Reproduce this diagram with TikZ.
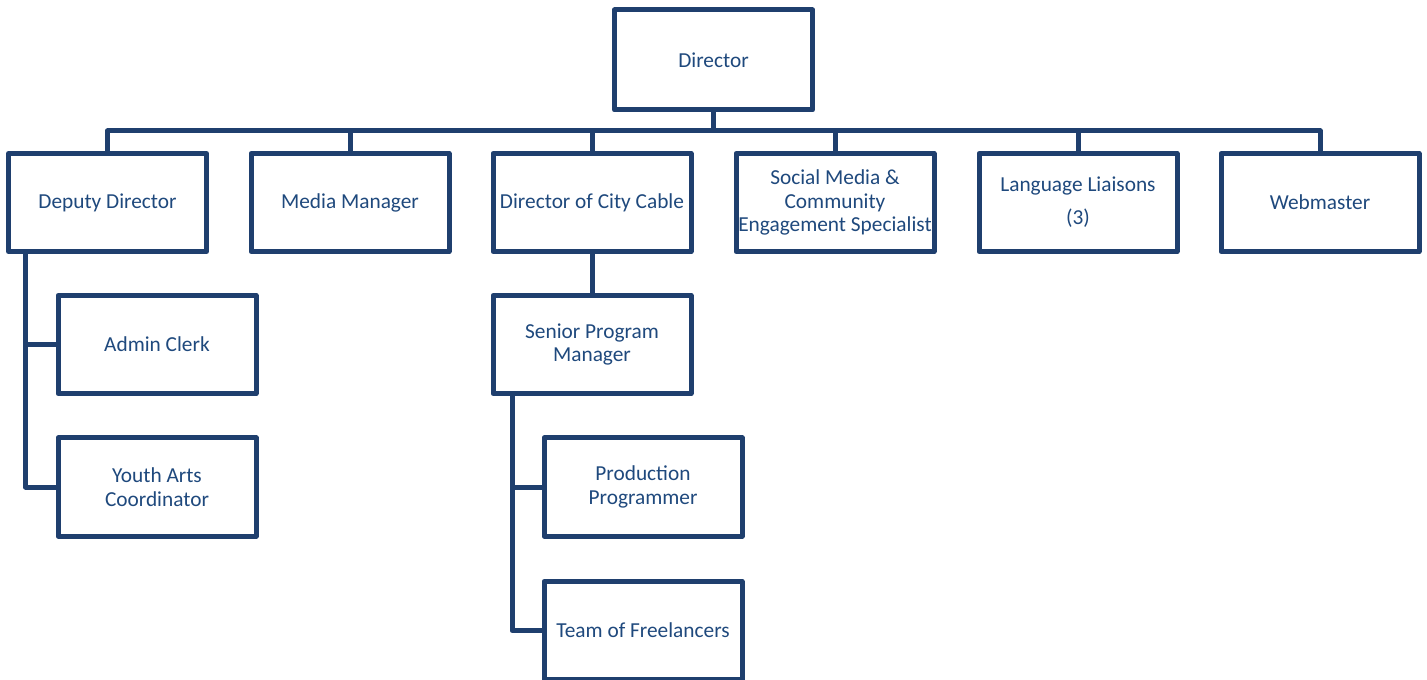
\documentclass[tikz,border=0pt]{standalone}
\usepackage{fontspec}
\setmainfont{Carlito}
\usetikzlibrary{calc}
\definecolor{orgline}{HTML}{1F3F6E}
\definecolor{orgtext}{HTML}{1F497D}
\begin{document}
\begin{tikzpicture}[x=0.75pt,y=-0.75pt,
  orgbox/.style={draw=orgline, line width=3.75pt, line join=round, fill=white,
    minimum width=148.5pt, minimum height=73.5pt, inner sep=0pt,
    align=center, text=orgtext, font=\fontsize{16}{17.6}\selectfont},
  link/.style={draw=orgline, line width=3.75pt, line join=round}]
\useasboundingbox (0,0) rectangle (1427,680);

% top of the chart
\node[orgbox, minimum height=75pt] (dir) at (713.5,60) {Director};

% first level
\node[orgbox] (dd)  at (107.5,202.5) {Deputy Director};
\node[orgbox] (mm)  at (350,202.5)   {Media Manager};
\node[orgbox] (dcc) at (592,202.5)   {Director of City Cable};
\node[orgbox] (sm)  at (835,202.5)   {Social Media \&\\Community\\Engagement Specialist};
\node[orgbox] (ll)  at (1078,202.5)  {Language Liaisons\\[7pt](3)};
\node[orgbox] (wm)  at (1320,202.5)  {Webmaster};

% under the deputy director
\node[orgbox] (ac) at (157,344.5) {Admin Clerk};
\node[orgbox] (ya) at (157,487)   {Youth Arts\\Coordinator};

% under city cable
\node[orgbox] (spm) at (592,344.5) {Senior Program\\Manager};
\node[orgbox] (pp)  at (643,487)   {Production\\Programmer};
\node[orgbox] (tf)  at (643,630.5) {Team of Freelancers};

% connectors
\coordinate (bus) at (713.5,131);
\draw[link] (dir.south) -- (bus);
\foreach \n in {dd,mm,dcc,sm,ll,wm} \draw[link] (bus) -| (\n.north);

\coordinate (ddspine) at ($(dd.south west)+(19.5,0)$);
\draw[link] (ddspine) |- (ac.west);
\draw[link] (ddspine) |- (ya.west);

\draw[link] (dcc.south) -- (spm.north);
\coordinate (spmspine) at ($(spm.south west)+(21.5,0)$);
\draw[link] (spmspine) |- (pp.west);
\draw[link] (spmspine) |- (tf.west);
\end{tikzpicture}
\end{document}
